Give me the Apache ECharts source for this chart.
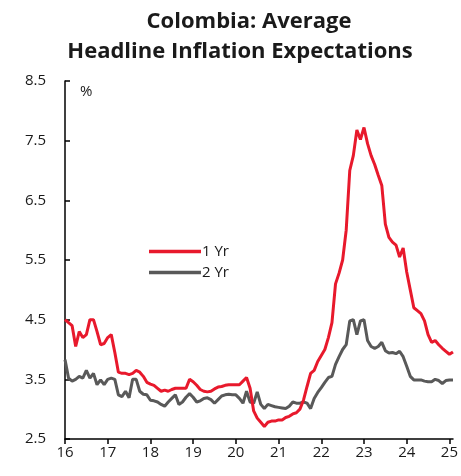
<!DOCTYPE html>
<html>
<head>
<meta charset="utf-8">
<script src="https://cdn.jsdelivr.net/npm/echarts@6/dist/echarts.min.js"></script>
<style>
  html, body { margin: 0; padding: 0; background: #fff; }
  #chart { width: 461px; height: 476px; }
</style>
</head>
<body>
<div id="chart"></div>
<script>
// Monthly average headline inflation expectations, Jan 2016 - Feb 2025 (%)
const startYear = 2016;
const oneYear = [
  4.5, 4.45, 4.4, 4.05, 4.3, 4.2, 4.25, 4.5, 4.5, 4.3, 4.08, 4.1,
  4.2, 4.25, 3.95, 3.62, 3.6, 3.6, 3.58, 3.6, 3.65, 3.62, 3.55, 3.45,
  3.42, 3.4, 3.35, 3.3, 3.32, 3.3, 3.33, 3.35, 3.35, 3.35, 3.35, 3.5,
  3.46, 3.4, 3.33, 3.3, 3.29, 3.3, 3.34, 3.37, 3.38, 3.4, 3.41, 3.41,
  3.41, 3.41, 3.47, 3.53, 3.35, 2.97, 2.85, 2.78, 2.71, 2.78, 2.8, 2.8,
  2.82, 2.82, 2.86, 2.88, 2.92, 2.94, 3.0, 3.15, 3.38, 3.6, 3.65, 3.8,
  3.9, 4.0, 4.2, 4.45, 5.1, 5.28, 5.5, 6.0, 7.0, 7.25, 7.68, 7.52,
  7.72, 7.45, 7.25, 7.1, 6.92, 6.75, 6.1, 5.88, 5.8, 5.75, 5.55, 5.7,
  5.3, 5.0, 4.7, 4.65, 4.6, 4.48, 4.25, 4.12, 4.15, 4.08, 4.02, 3.97,
  3.92, 3.96
];
const twoYear = [
  3.83, 3.52, 3.47, 3.5, 3.55, 3.52, 3.65, 3.52, 3.6, 3.41, 3.49, 3.41,
  3.5, 3.52, 3.5, 3.24, 3.21, 3.3, 3.19, 3.5, 3.5, 3.3, 3.25, 3.24,
  3.15, 3.14, 3.12, 3.08, 3.05, 3.12, 3.18, 3.24, 3.08, 3.12, 3.2, 3.26,
  3.2, 3.12, 3.14, 3.18, 3.19, 3.16, 3.1, 3.16, 3.22, 3.24, 3.25, 3.24,
  3.24, 3.18, 3.1, 3.3, 3.12, 3.1, 3.29, 3.08, 3.01, 3.08, 3.06, 3.04,
  3.03, 3.02, 3.01, 3.05, 3.12, 3.1, 3.1, 3.12, 3.1, 3.01, 3.18, 3.28,
  3.36, 3.45, 3.53, 3.55, 3.75, 3.88, 4.0, 4.08, 4.48, 4.5, 4.25, 4.48,
  4.5, 4.15, 4.05, 4.02, 4.05, 4.12, 3.98, 3.94, 3.95, 3.93, 3.97, 3.88,
  3.72, 3.55, 3.49, 3.49, 3.49, 3.47, 3.46, 3.46, 3.5, 3.48, 3.43, 3.48,
  3.49, 3.49
];
const yearTicks = [2016, 2017, 2018, 2019, 2020, 2021, 2022, 2023, 2024, 2025];
const valueTicks = [2.5, 3.5, 4.5, 5.5, 6.5, 7.5, 8.5];
const seriesNames = ['1 Yr', '2 Yr'];

const toPoints = arr => arr.map((v, i) => [startYear + i / 12, v]);

const FONT = '"Open Sans", "Noto Sans", sans-serif';
const INK = '#1a1a1a';
const RED = '#e8192c';
const GREY = '#595959';

const chart = echarts.init(document.getElementById('chart'), null, { renderer: 'canvas' });
chart.setOption({
  animation: false,
  backgroundColor: '#fff',
  title: [
    { text: 'Colombia: Average', left: 244, top: 6, textAlign: 'center',
      textStyle: { fontFamily: FONT, fontSize: 22, fontWeight: 'bold', color: INK } },
    { text: 'Headline Inflation Expectations', left: 235, top: 36, textAlign: 'center',
      textStyle: { fontFamily: FONT, fontSize: 22, fontWeight: 'bold', color: INK } }
  ],
  grid: { left: 65, right: 7, top: 81, bottom: 37, containLabel: false },
  legend: {
    orient: 'vertical', left: 144, top: 239, icon: 'rect',
    itemWidth: 52, itemHeight: 3.5, itemGap: 6,
    data: seriesNames,
    textStyle: { fontFamily: FONT, fontSize: 15, color: INK, padding: [0, 0, 0, -4] }
  },
  graphic: [
    { type: 'text', left: 80, top: 84,
      style: { text: '%', fontFamily: FONT, fontSize: 15, fill: INK } }
  ],
  xAxis: {
    type: 'value', min: startYear, max: startYear + (oneYear.length - 1) / 12,
    splitLine: { show: false },
    axisLine: { lineStyle: { color: '#000', width: 1.5 } },
    axisTick: { customValues: yearTicks, length: 5, lineStyle: { color: '#000', width: 1.5 } },
    axisLabel: { customValues: yearTicks, formatter: v => String(Math.round(v) % 100),
      fontFamily: FONT, fontSize: 15, color: INK, margin: 6 }
  },
  yAxis: {
    type: 'value', min: 2.5, max: 8.5,
    splitLine: { show: false },
    axisLine: { show: true, lineStyle: { color: '#000', width: 1.5 } },
    axisTick: { show: true, inside: true, customValues: valueTicks, length: 5, lineStyle: { color: '#000', width: 1.5 } },
    axisLabel: { customValues: valueTicks, formatter: v => v.toFixed(1),
      fontFamily: FONT, fontSize: 15, color: INK, margin: 19 }
  },
  series: [
    { name: seriesNames[0], type: 'line', data: toPoints(oneYear), symbol: 'none',
      lineStyle: { color: RED, width: 3 }, itemStyle: { color: RED }, z: 3 },
    { name: seriesNames[1], type: 'line', data: toPoints(twoYear), symbol: 'none',
      lineStyle: { color: GREY, width: 3 }, itemStyle: { color: GREY }, z: 2 }
  ]
});
</script>
</body>
</html>
